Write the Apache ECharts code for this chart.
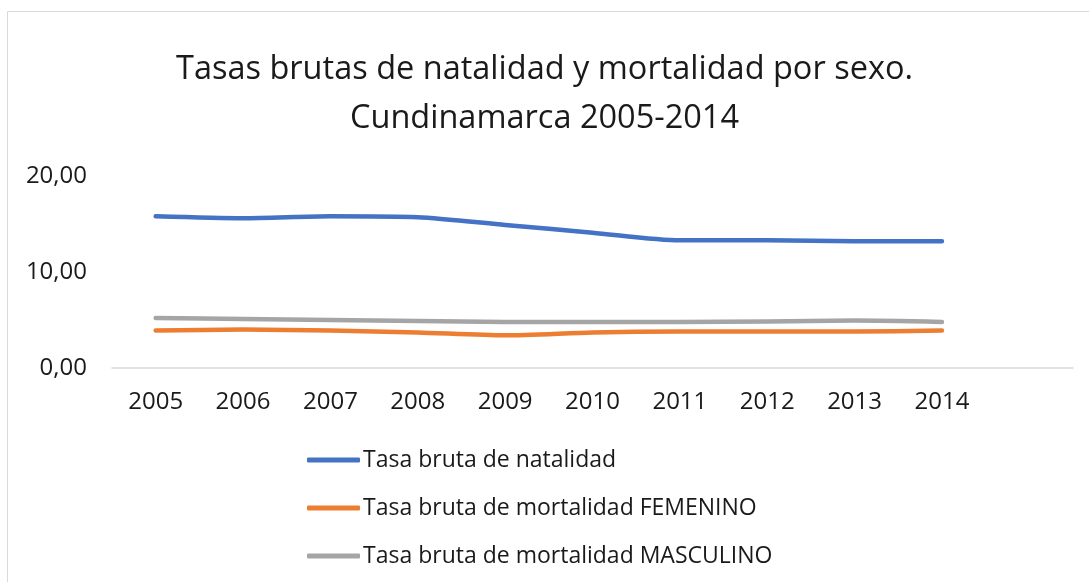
<!DOCTYPE html>
<html>
<head>
<meta charset="utf-8">
<script src="https://cdn.jsdelivr.net/npm/echarts@6/dist/echarts.min.js"></script>
<style>
html,body{margin:0;padding:0;background:#fff;}
#c{width:1089px;height:582px;}
</style>
</head>
<body>
<div id="c"></div>
<script>
const categories = ['2005','2006','2007','2008','2009','2010','2011','2012','2013','2014',''];
const natalidad = [15.8, 15.6, 15.8, 15.7, 14.9, 14.1, 13.3, 13.3, 13.2, 13.2];
const mortFemenino = [3.9, 4.0, 3.9, 3.7, 3.4, 3.7, 3.8, 3.8, 3.8, 3.9];
const mortMasculino = [5.2, 5.1, 5.0, 4.9, 4.8, 4.8, 4.8, 4.85, 4.95, 4.8];
const yTicks = [0, 10, 20];
const seriesNames = ['Tasa bruta de natalidad','Tasa bruta de mortalidad FEMENINO','Tasa bruta de mortalidad MASCULINO'];

const FONT = 'Open Sans';
const chart = echarts.init(document.getElementById('c'), null, {renderer:'canvas'});
const mk = (name, data, color) => ({
  name, type:'line', data, smooth:0.25, symbol:'none', showSymbol:false,
  lineStyle:{color, width:4.5, cap:'round', join:'round'}, itemStyle:{color},
  animation:false
});
chart.setOption({
  animation:false,
  backgroundColor:'#fff',
  graphic:[{type:'rect', silent:true, shape:{x:7.5,y:11.5,width:1200,height:700},
    style:{fill:'none', stroke:'#d9d9d9', lineWidth:1}}],
  title:{
    text:'Tasas brutas de natalidad y mortalidad por sexo.\nCundinamarca 2005-2014',
    left:'center', top:40,
    textStyle:{fontFamily:FONT, fontSize:32.5, fontWeight:'normal', color:'#1a1a1a', lineHeight:49}
  },
  legend:{
    orient:'vertical', left:302, top:443, itemWidth:53, itemHeight:5, itemGap:24,
    icon:'roundRect',
    textStyle:{fontFamily:FONT, fontSize:23, lineHeight:24, color:'#1a1a1a', padding:[0,0,0,-2]},
    data:seriesNames
  },
  grid:{left:112, right:16, top:176, bottom:214, containLabel:false},
  xAxis:{
    type:'category', data:categories, boundaryGap:true,
    axisLine:{lineStyle:{color:'#d9d9d9', width:1.5}},
    axisTick:{show:false},
    axisLabel:{fontFamily:FONT, fontSize:24, color:'#1a1a1a', margin:22, interval:0}
  },
  yAxis:{
    type:'value', min:yTicks[0], max:yTicks[yTicks.length-1], interval:10,
    axisLine:{show:false}, axisTick:{show:false}, splitLine:{show:false},
    axisLabel:{fontFamily:FONT, fontSize:24, color:'#1a1a1a', margin:25,
      formatter:v=>v.toFixed(2).replace('.',',')}
  },
  series:[
    mk(seriesNames[0], natalidad, '#4472C4'),
    mk(seriesNames[1], mortFemenino, '#ED7D31'),
    mk(seriesNames[2], mortMasculino, '#A5A5A5')
  ]
});
</script>
</body>
</html>
